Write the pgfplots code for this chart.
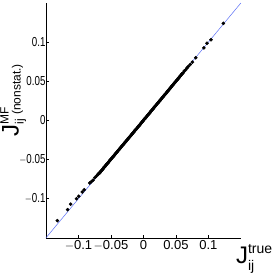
\documentclass[border=0pt]{standalone}
\usepackage{fontspec}
\setmainfont{Liberation Sans}
\usepackage{pgfplots}
\pgfplotsset{compat=1.18}
\usepackage{pgfplotstable}
\definecolor{diag}{RGB}{90,110,245}
\pgfplotstableread{
x y
-0.1326 -0.1280
-0.1167 -0.1140
-0.1120 -0.1070
-0.1030 -0.0999
-0.0995 -0.0968
-0.0940 -0.0914
-0.0910 -0.0885
-0.0826 -0.0800
-0.0800 -0.0782
-0.0775 -0.0762
-0.0745 -0.0728
-0.0720 -0.0708
-0.070 -0.0688
-0.069 -0.0684
-0.068 -0.0672
-0.067 -0.0668
-0.066 -0.0652
-0.065 -0.0646
-0.064 -0.0634
-0.063 -0.0626
-0.062 -0.0617
-0.061 -0.0602
-0.060 -0.0594
-0.059 -0.0588
-0.058 -0.0572
-0.057 -0.0566
-0.056 -0.0553
-0.055 -0.0547
-0.054 -0.0536
-0.053 -0.0524
-0.052 -0.0517
-0.051 -0.0503
-0.050 -0.0497
-0.049 -0.0486
-0.048 -0.0473
-0.047 -0.0468
-0.046 -0.0454
-0.045 -0.0449
-0.044 -0.0436
-0.043 -0.0424
-0.042 -0.0418
-0.041 -0.0405
-0.040 -0.0398
-0.039 -0.0387
-0.038 -0.0374
-0.037 -0.0369
-0.036 -0.0356
-0.035 -0.0348
-0.034 -0.0338
-0.033 -0.0325
-0.032 -0.0319
-0.031 -0.0306
-0.030 -0.0298
-0.029 -0.0288
-0.028 -0.0276
-0.027 -0.0271
-0.026 -0.0256
-0.025 -0.0249
-0.024 -0.0239
-0.023 -0.0226
-0.022 -0.0221
-0.021 -0.0207
-0.020 -0.0199
-0.019 -0.0189
-0.018 -0.0176
-0.017 -0.0172
-0.016 -0.0157
-0.015 -0.0151
-0.014 -0.0138
-0.013 -0.0127
-0.012 -0.0122
-0.011 -0.0108
-0.010 -0.0101
-0.009 -0.0088
-0.008 -0.0077
-0.007 -0.0073
-0.006 -0.0058
-0.005 -0.0052
-0.004 -0.0039
-0.003 -0.0027
-0.002 -0.0023
-0.001 -0.0008
0.000 -0.0002
0.001 0.0012
0.002 0.0023
0.003 0.0027
0.004 0.0042
0.005 0.0048
0.006 0.0062
0.007 0.0073
0.008 0.0077
0.009 0.0092
0.010 0.0098
0.011 0.0112
0.012 0.0123
0.013 0.0127
0.014 0.0142
0.015 0.0148
0.016 0.0161
0.017 0.0173
0.018 0.0178
0.019 0.0191
0.020 0.0198
0.021 0.0212
0.022 0.0222
0.023 0.0228
0.024 0.0241
0.025 0.0248
0.026 0.0262
0.027 0.0271
0.028 0.0278
0.029 0.0292
0.030 0.0298
0.031 0.0311
0.032 0.0322
0.033 0.0328
0.034 0.0341
0.035 0.0347
0.036 0.0362
0.037 0.0371
0.038 0.0377
0.039 0.0392
0.040 0.0398
0.041 0.0411
0.042 0.0421
0.043 0.0427
0.044 0.0442
0.045 0.0448
0.046 0.0461
0.047 0.0471
0.048 0.0478
0.049 0.0491
0.050 0.0498
0.051 0.0512
0.052 0.0519
0.053 0.0528
0.054 0.0542
0.055 0.0547
0.056 0.0561
0.057 0.0569
0.058 0.0579
0.059 0.0592
0.060 0.0598
0.0615 0.0612
0.0630 0.0632
0.0650 0.0646
0.0670 0.0668
0.0690 0.0688
0.0720 0.0715
0.0755 0.0745
0.0805 0.0800
0.0930 0.0927
0.0980 0.0986
0.1040 0.1030
0.1230 0.1240
}\points
\begin{document}
\begin{tikzpicture}[x=1pt,y=1pt]
\begin{axis}[
  at={(46pt,35pt)}, anchor=south west,
  width=195pt, height=235pt, scale only axis,
  xmin=-0.15, xmax=0.15, ymin=-0.15, ymax=0.15,
  axis lines=left, axis line style={-, black, line width=0.6pt},
  tick align=inside, major tick length=3pt,
  tick style={black, line width=0.6pt},
  xtick={-0.1,-0.05,0,0.05,0.1},
  ytick={-0.1,-0.05,0,0.05,0.1},
  xticklabels={$-$0.1,$-$0.05,0,0.05,0.1},
  yticklabels={$-$0.1,$-$0.05,0,0.05,0.1},
  /pgf/number format/assume math mode=true,
  tick label style={font=\fontsize{13}{15}\selectfont},
  yticklabel style={xscale=0.75, inner xsep=0.5pt},
  xticklabel style={inner ysep=2pt},
  clip=false,
]
\addplot[diag, line width=0.5pt] coordinates {(-0.15,-0.15) (0.15,0.15)};
\addplot[only marks, mark=*, mark size=1.6pt, black] table[x=x,y=y] {\points};
\node[anchor=north west, inner sep=0pt, font=\fontsize{24}{26}\selectfont] at (rel axis cs:1,0) [xshift=-5pt,yshift=-6pt]
  {J\rlap{\raisebox{10pt}{\fontsize{14}{15}\selectfont true}}\raisebox{-7pt}{\fontsize{14}{15}\selectfont ij}\hspace{22pt}};
\node[rotate=90, anchor=center, inner sep=0pt, font=\fontsize{24}{26}\selectfont] at (axis cs:-0.2005,0.026)
  {J\rlap{\raisebox{10pt}{\fontsize{12}{14}\selectfont MF}}\raisebox{-5pt}{\fontsize{12}{14}\selectfont ij}\hspace{4pt}\raisebox{-2pt}{\fontsize{12}{14}\selectfont (nonstat.)}};
\end{axis}
\path (0,0) rectangle (273pt,273pt);
\end{tikzpicture}
\end{document}
